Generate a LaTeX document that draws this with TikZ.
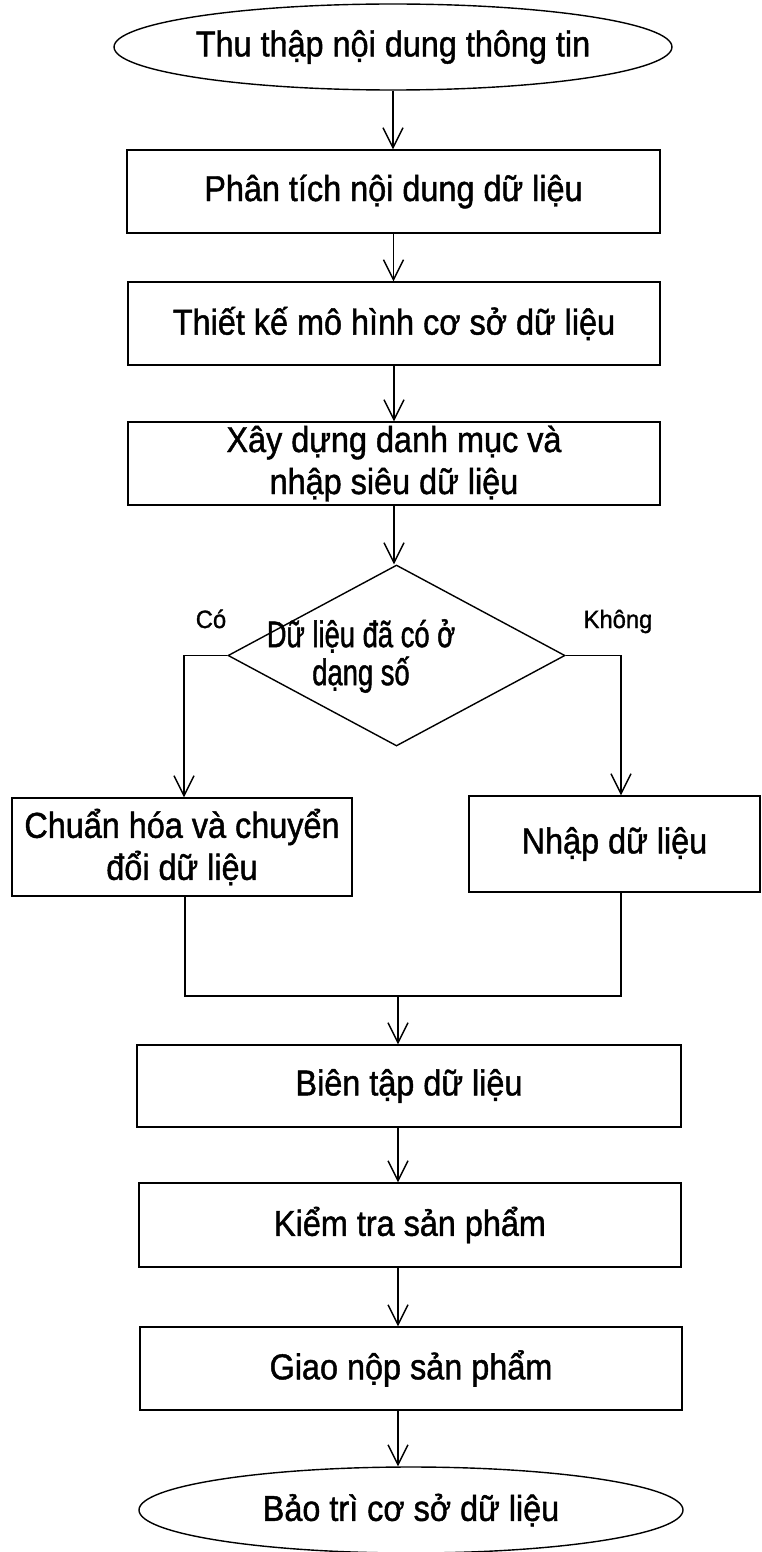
\documentclass[tikz,border=0pt]{standalone}
\usepackage{fontspec}
\setmainfont{Liberation Sans}[FakeStretch=0.9,FakeBold=1.2]
\newfontfamily\narrowf{Liberation Sans}[FakeStretch=0.74,FakeBold=1.2]
\newfontfamily\labf{Liberation Sans}[FakeStretch=0.95,FakeBold=1.2]
\usetikzlibrary{arrows.meta,shapes.geometric,calc}
\begin{document}
\begin{tikzpicture}[x=1pt,y=-1pt,
  line width=1.4pt,
  txt/.style={font=\fontsize{36}{42}\selectfont},
  stepbox/.style={draw, rectangle, inner sep=0pt, txt, align=center},
  oval/.style={draw, ellipse, inner sep=0pt, txt, minimum width=538pt, minimum height=86pt},
  decision/.style={draw, diamond, inner sep=0pt, minimum width=337pt, minimum height=181pt},
  lab/.style={font=\fontsize{25}{27}\selectfont\labf, anchor=base},
  arr/.style={-{Straight Barb[length=20pt,width=20pt]}},
  conn/.style={line join=miter}
]
\useasboundingbox (0,0) rectangle (761,1552);

\node[oval] (e1) at (393,47) {Thu thập nội dung thông tin};
\node[stepbox, minimum width=533pt, minimum height=83pt] (b1) at (393.5,191.5) {Phân tích nội dung dữ liệu};
\node[stepbox, minimum width=532pt, minimum height=83pt] (b2) at (394,323.5) {Thiết kế mô hình cơ sở dữ liệu};
\node[stepbox, minimum width=532pt, minimum height=83pt] (b3) at (394,463.5) {Xây dựng danh mục và\\nhập siêu dữ liệu};
\node[decision] (d) at (396.5,655.5) {};
\node[align=center, font=\fontsize{37}{38}\selectfont\narrowf] (dt) at (361,656) {Dữ liệu đã có ở\\dạng số};
\node[lab] (yes) at (211,628) {Có};
\node[lab] (no) at (618,628) {Không};
\node[stepbox, minimum width=340pt, minimum height=98pt] (L) at (182,847) {Chuẩn hóa và chuyển\\đổi dữ liệu};
\node[stepbox, minimum width=291pt, minimum height=96pt] (R) at (614.5,844) {Nhập dữ liệu};
\coordinate (m) at (398,996);
\node[stepbox, minimum width=544pt, minimum height=82pt] (b4) at (409,1086) {Biên tập dữ liệu};
\node[stepbox, minimum width=542pt, minimum height=84pt] (b5) at (410,1225) {Kiểm tra sản phẩm};
\node[stepbox, minimum width=542pt, minimum height=83pt] (b6) at (411,1368.5) {Giao nộp sản phẩm};
\node[oval, minimum width=544pt, minimum height=86pt] (e2) at (411,1510) {Bảo trì cơ sở dữ liệu};

\draw[arr] (e1.south) -- (e1.south |- b1.north);
\draw[arr] (b1.south) -- (b1.south |- b2.north);
\draw[arr] (b2.south) -- (b2.south |- b3.north);
\draw[arr] (b3.south) -- (b3.south |- d.north);
\draw[arr, conn] (d.west) -| ([xshift=2pt]L.north);
\draw[arr, conn] (d.east) -| ([xshift=6.5pt]R.north);
\draw[conn] ([xshift=3pt]L.south) |- (m) -| ([xshift=6.5pt]R.south);
\draw[arr] (m) -- (m |- b4.north);
\draw[arr] (b4.south -| m) -- (b5.north -| m);
\draw[arr] (b5.south -| m) -- (b6.north -| m);
\draw[arr] (b6.south -| m) -- (e2.north -| m);
\end{tikzpicture}
\end{document}
